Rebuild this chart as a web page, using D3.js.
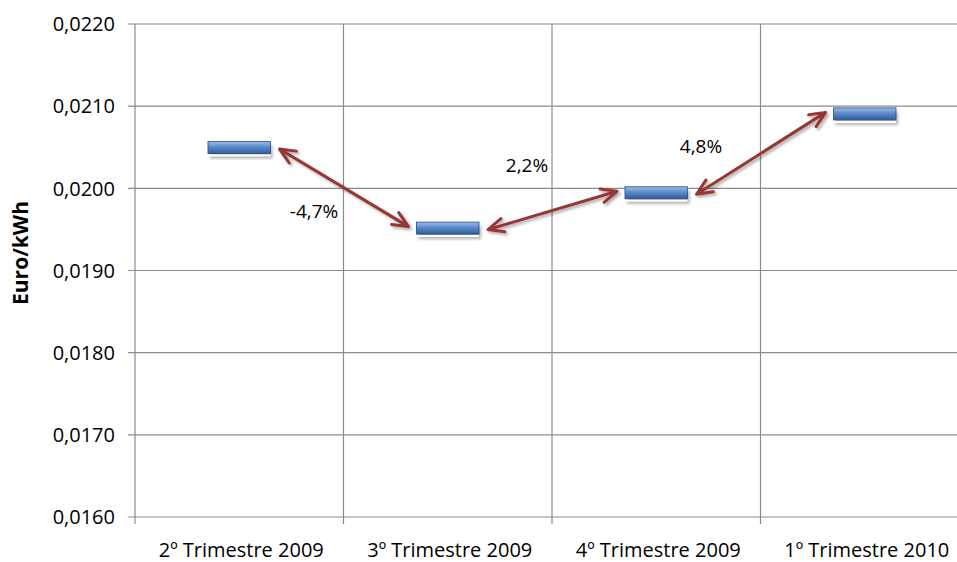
<!DOCTYPE html>
<html>
<head>
<meta charset="utf-8">
<script src="https://cdn.jsdelivr.net/npm/d3@7"></script>
<style>
  body { margin: 0; background: #fff; }
  svg { display: block; font-family: "Open Sans", "Noto Sans", sans-serif; }
</style>
</head>
<body>
<svg></svg>
<script>
// chart data
const categories = ["2º Trimestre 2009", "3º Trimestre 2009", "4º Trimestre 2009", "1º Trimestre 2010"];
const prices = [0.02049, 0.01951, 0.01994, 0.02090];
const changes = ["-4,7%", "2,2%", "4,8%"];
const yTicks = [0.016, 0.017, 0.018, 0.019, 0.020, 0.021, 0.022];

const width = 957, height = 562;
const plotLeft = 135, plotRight = 969, plotTop = 24, plotBottom = 517;

const svg = d3.select("svg").attr("width", width).attr("height", height);

const x = d3.scaleBand().domain(categories).range([plotLeft, plotRight]);
const y = d3.scaleLinear().domain([0.016, 0.022]).range([plotBottom, plotTop]);

const fmt = v => d3.format(".4f")(v).replace(".", ",");

// gradients for the bar markers
const defs = svg.append("defs");
const grad = defs.append("linearGradient").attr("id", "barGrad")
  .attr("x1", 0).attr("y1", 0).attr("x2", 0).attr("y2", 1);
grad.append("stop").attr("offset", "0%").attr("stop-color", "#9dbde6");
grad.append("stop").attr("offset", "45%").attr("stop-color", "#5a8acb");
grad.append("stop").attr("offset", "100%").attr("stop-color", "#2f5f9e");
const shadow = defs.append("filter").attr("id", "blur");
shadow.append("feGaussianBlur").attr("stdDeviation", 1.5);
const arrowShadow = defs.append("filter").attr("id", "ashadow")
  .attr("x", "-20%").attr("y", "-20%").attr("width", "140%").attr("height", "140%");
arrowShadow.append("feGaussianBlur").attr("in", "SourceAlpha").attr("stdDeviation", 1.5);
arrowShadow.append("feOffset").attr("dx", 2).attr("dy", 2).attr("result", "b");
arrowShadow.append("feComponentTransfer").append("feFuncA").attr("type", "linear").attr("slope", 0.35);
const m = arrowShadow.append("feMerge");
m.append("feMergeNode");
m.append("feMergeNode").attr("in", "SourceGraphic");

// horizontal gridlines
svg.append("g").selectAll("line").data(yTicks).join("line")
  .attr("x1", plotLeft - 7).attr("x2", plotRight)
  .attr("y1", d => y(d)).attr("y2", d => y(d))
  .attr("stroke", "#8c8c8c").attr("stroke-width", 1.2);

// vertical gridlines at category boundaries
const bounds = categories.map(c => x(c)).concat([plotRight]);
svg.append("g").selectAll("line").data(bounds).join("line")
  .attr("x1", d => d).attr("x2", d => d)
  .attr("y1", plotTop).attr("y2", plotBottom + 7)
  .attr("stroke", "#8c8c8c").attr("stroke-width", 1.2);

// y tick labels
svg.append("g").selectAll("text").data(yTicks).join("text")
  .attr("x", plotLeft - 20).attr("y", d => y(d)).attr("dy", "0.36em")
  .attr("text-anchor", "end").attr("font-size", 20).attr("fill", "#000")
  .text(fmt);

// x labels
svg.append("g").selectAll("text").data(categories).join("text")
  .attr("x", d => x(d) + x.bandwidth() / 2 + 2).attr("y", 557)
  .attr("text-anchor", "middle").attr("font-size", 20).attr("fill", "#000")
  .text(d => d);

// y title
svg.append("text")
  .attr("transform", "translate(28,253) rotate(-90)")
  .attr("text-anchor", "middle").attr("font-size", 21).attr("font-weight", "bold")
  .text("Euro/kWh");

// bar markers
const barW = x.bandwidth() * 0.3, barH = 13;
const cx = c => x(c) + x.bandwidth() / 2;
const marks = svg.append("g").selectAll("g").data(categories).join("g");
marks.append("rect")
  .attr("x", c => cx(c) - barW / 2 + 2).attr("y", (c, i) => y(prices[i]) - barH / 2 + 4)
  .attr("width", barW).attr("height", barH)
  .attr("fill", "#555").attr("opacity", 0.45).attr("filter", "url(#blur)");
marks.append("rect")
  .attr("x", c => cx(c) - barW / 2).attr("y", (c, i) => y(prices[i]) - barH / 2)
  .attr("width", barW).attr("height", barH - 1)
  .attr("fill", "url(#barGrad)").attr("stroke", "#2c4d77").attr("stroke-width", 0.8);
marks.append("line")
  .attr("x1", c => cx(c) - barW / 2).attr("x2", c => cx(c) + barW / 2)
  .attr("y1", (c, i) => y(prices[i]) + barH / 2 + 1).attr("y2", (c, i) => y(prices[i]) + barH / 2 + 1)
  .attr("stroke", "#fff").attr("stroke-width", 2);

// double-headed arrows between quarters
const arrowColor = "#953735";
const pairs = d3.range(prices.length - 1).map(i => ({
  x1: cx(categories[i]) + barW / 2 + 9, y1: y(prices[i]) + 1,
  x2: cx(categories[i + 1]) - barW / 2 - 8, y2: y(prices[i + 1]) - 2,
  label: changes[i]
}));

function head(px, py, ang) {
  const L = 17, a = 0.42;
  return `M${px + L * Math.cos(ang - a)},${py + L * Math.sin(ang - a)}L${px},${py}L${px + L * Math.cos(ang + a)},${py + L * Math.sin(ang + a)}`;
}

const arrows = svg.append("g").attr("filter", "url(#ashadow)");
pairs.forEach(p => {
  const ang = Math.atan2(p.y2 - p.y1, p.x2 - p.x1);
  const path = d3.path();
  path.moveTo(p.x1, p.y1); path.lineTo(p.x2, p.y2);
  arrows.append("path").attr("d", path.toString() + head(p.x1, p.y1, ang) + head(p.x2, p.y2, ang + Math.PI))
    .attr("fill", "none").attr("stroke", arrowColor).attr("stroke-width", 3)
    .attr("stroke-linejoin", "round").attr("stroke-linecap", "round");
});

// change labels
const labelPos = [[314, 218], [527, 172], [701, 153]];
svg.append("g").selectAll("text").data(pairs).join("text")
  .attr("x", (d, i) => labelPos[i][0]).attr("y", (d, i) => labelPos[i][1])
  .attr("text-anchor", "middle").attr("font-size", 19).attr("fill", "#000")
  .text(d => d.label);
</script>
</body>
</html>
